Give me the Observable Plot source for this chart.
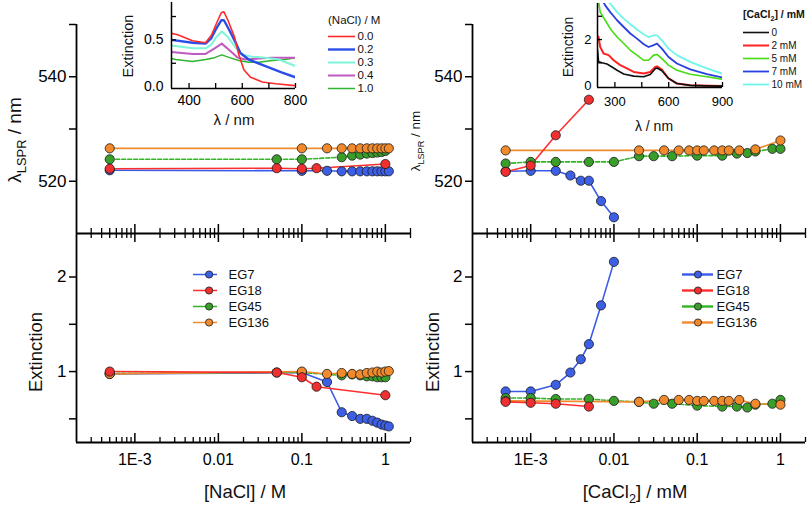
<!DOCTYPE html>
<html><head><meta charset="utf-8">
<script src="https://cdn.jsdelivr.net/npm/d3@7"></script>
<script src="https://cdn.jsdelivr.net/npm/@observablehq/plot@0.6"></script>
<style>
html,body{margin:0;padding:0;background:#fff;}
#wrap{position:relative;width:810px;height:511px;overflow:hidden;background:#fff;}
#wrap svg{position:absolute;left:0;top:0;background:none !important;overflow:visible;max-width:none;}
</style></head><body><div id="wrap"></div>
<script>
// ---------------- DATA ----------------
const seriesNames = ["EG7", "EG18", "EG45", "EG136"];

// NaCl panel (left): concentration / M, lambda_LSPR / nm, extinction
const naclEG7_c    = [0.0005, 0.1, 0.2, 0.3, 0.4, 0.5, 0.6, 0.7, 0.8, 0.9, 1.0, 1.1];
const naclEG7_lspr = [522.1, 522.0, 522.0, 521.9, 521.9, 521.9, 521.9, 521.9, 521.9, 521.9, 521.9, 521.9];
const naclEG7_ext  = [0.975, 0.99, 0.89, 0.57, 0.53, 0.50, 0.50, 0.48, 0.46, 0.44, 0.43, 0.42];

const naclEG18_c    = [0.0005, 0.05, 0.1, 0.15, 1.0];
const naclEG18_lspr = [522.4, 522.5, 522.4, 522.5, 523.3];
const naclEG18_ext  = [1.0, 0.99, 0.94, 0.84, 0.75];

const naclEG45_c    = [0.0005, 0.05, 0.1, 0.3, 0.4, 0.5, 0.6, 0.7, 0.8, 0.9, 1.0];
const naclEG45_lspr = [524.2, 524.2, 524.2, 524.6, 524.9, 525.1, 525.3, 525.4, 525.5, 525.6, 525.8];
const naclEG45_ext  = [0.98, 0.99, 0.99, 0.96, 0.97, 0.96, 0.95, 0.95, 0.94, 0.94, 0.94];

const naclEG136_c    = [0.0005, 0.1, 0.2, 0.3, 0.4, 0.5, 0.6, 0.7, 0.8, 0.9, 1.0, 1.1];
const naclEG136_lspr = [526.3, 526.3, 526.3, 526.3, 526.3, 526.3, 526.3, 526.3, 526.3, 526.3, 526.3, 526.3];
const naclEG136_ext  = [0.975, 1.0, 0.975, 0.985, 0.975, 0.97, 0.985, 0.99, 1.0, 0.99, 1.0, 1.005];

// CaCl2 panel (right): concentration / mM
const caclEG7_c    = [0.0005, 0.001, 0.002, 0.003, 0.004, 0.005, 0.007, 0.01];
const caclEG7_lspr = [521.9, 522.0, 522.0, 521.1, 520.1, 520.1, 516.2, 513.1];
const caclEG7_ext  = [0.79, 0.79, 0.86, 0.99, 1.13, 1.29, 1.70, 2.16];

const caclEG18_c    = [0.0005, 0.001, 0.002, 0.005];
const caclEG18_lspr = [521.8, 523.0, 528.8, 535.6];
const caclEG18_ext  = [0.68, 0.67, 0.66, 0.63];

const caclEG45_c    = [0.0005, 0.001, 0.002, 0.005, 0.01, 0.02, 0.03, 0.05, 0.1, 0.2, 0.3, 0.4, 0.5, 0.8, 1.0];
const caclEG45_lspr = [523.4, 523.7, 523.7, 523.7, 523.7, 524.8, 524.8, 524.8, 524.9, 524.9, 525.3, 525.4, 525.7, 526.2, 526.2];
const caclEG45_ext  = [0.72, 0.72, 0.71, 0.71, 0.69, 0.68, 0.66, 0.66, 0.64, 0.63, 0.63, 0.62, 0.65, 0.66, 0.70];

const caclEG136_c    = [0.0005, 0.02, 0.04, 0.06, 0.08, 0.1, 0.12, 0.16, 0.2, 0.24, 0.32, 0.5, 1.0];
const caclEG136_lspr = [525.9, 525.9, 525.9, 525.9, 525.9, 525.9, 525.9, 525.9, 525.9, 525.9, 525.9, 526.1, 527.8];
const caclEG136_ext  = [0.69, 0.68, 0.70, 0.70, 0.70, 0.69, 0.69, 0.69, 0.69, 0.69, 0.70, 0.66, 0.65];

// Inset left: spectra vs NaCl concentration
const naclInsetLabels = ["0.0", "0.2", "0.3", "0.4", "1.0"];
const nacl00_wl = [334, 350, 362, 413, 462, 484, 502, 521, 531, 546, 571, 587, 606, 631, 675, 725, 800];
const nacl00_e  = [0.57, 0.56, 0.55, 0.49, 0.47, 0.55, 0.67, 0.79, 0.80, 0.71, 0.53, 0.34, 0.18, 0.10, 0.05, 0.03, 0.01];
const nacl02_wl = [334, 413, 462, 484, 502, 521, 531, 552, 577, 593, 624, 687, 750, 800];
const nacl02_e  = [0.50, 0.47, 0.46, 0.52, 0.62, 0.71, 0.71, 0.60, 0.46, 0.36, 0.29, 0.22, 0.15, 0.10];
const nacl03_wl = [334, 413, 462, 484, 502, 523, 546, 577, 599, 637, 687, 737, 800];
const nacl03_e  = [0.44, 0.41, 0.41, 0.45, 0.53, 0.59, 0.53, 0.41, 0.34, 0.32, 0.31, 0.29, 0.22];
const nacl04_wl = [334, 413, 462, 496, 523, 552, 583, 612, 662, 712, 762, 800];
const nacl04_e  = [0.37, 0.35, 0.35, 0.41, 0.46, 0.39, 0.31, 0.29, 0.30, 0.31, 0.31, 0.31];
const nacl10_wl = [334, 350, 413, 462, 496, 523, 552, 587, 624, 662, 712, 762, 800];
const nacl10_e  = [0.30, 0.29, 0.27, 0.29, 0.31, 0.34, 0.31, 0.28, 0.26, 0.26, 0.28, 0.29, 0.31];

// Inset right: spectra vs CaCl2 concentration
const caclInsetLabels = ["0", "2 mM", "5 mM", "7 mM", "10 mM"];
const cacl0_wl  = [203, 209, 228, 256, 284, 312, 349, 405, 461, 497, 525, 535, 562, 599, 646, 720, 800, 900];
const cacl0_e   = [1.55, 1.05, 1.0, 0.95, 0.82, 0.68, 0.52, 0.43, 0.40, 0.50, 0.75, 0.78, 0.66, 0.33, 0.11, 0.03, 0.01, 0.0];
const cacl2_wl  = [203, 209, 218, 237, 265, 293, 330, 367, 405, 461, 497, 525, 535, 562, 599, 646, 720, 900];
const cacl2_e   = [2.15, 2.11, 1.68, 1.40, 1.33, 1.11, 0.90, 0.76, 0.61, 0.54, 0.61, 0.82, 0.85, 0.71, 0.33, 0.11, 0.04, 0.0];
const cacl5_wl  = [211, 218, 246, 274, 312, 349, 386, 423, 461, 488, 516, 535, 562, 599, 646, 720, 813, 897];
const cacl5_e   = [3.55, 3.18, 2.83, 2.47, 2.11, 1.83, 1.54, 1.33, 1.11, 1.11, 1.33, 1.36, 1.18, 0.90, 0.68, 0.51, 0.40, 0.30];
const cacl7_wl  = [233, 246, 274, 312, 349, 386, 423, 461, 488, 516, 535, 562, 599, 646, 720, 813, 897];
const cacl7_e   = [3.65, 3.47, 3.18, 2.83, 2.54, 2.26, 2.04, 1.80, 1.68, 1.76, 1.83, 1.61, 1.25, 0.97, 0.72, 0.51, 0.37];
const cacl10_wl = [256, 274, 312, 349, 386, 423, 461, 488, 516, 535, 562, 599, 646, 720, 813, 897];
const cacl10_e  = [3.65, 3.55, 3.18, 2.90, 2.66, 2.43, 2.23, 2.11, 2.18, 2.18, 1.97, 1.61, 1.33, 1.04, 0.76, 0.54];

// Tick values / labels
const logTickValues = [0.001, 0.01, 0.1, 1];
const logTickLabels = ["1E-3", "0.01", "0.1", "1"];
const lsprTicks = [520, 530, 540, 550];
const lsprLabeled = [520, 540];
const extTicks = [0.5, 1, 1.5, 2];
const extLabeled = [1, 2];
const naclInsetXTicks = [400, 500, 600, 700, 800];
const naclInsetXLabeled = [400, 600, 800];
const naclInsetYTicks = [0.25, 0.5, 0.75];
const naclInsetYLabeled = [0, 0.5];
const caclInsetXTicks = [300, 450, 600, 750, 900];
const caclInsetXLabeled = [300, 600, 900];
const caclInsetYTicks = [1, 2, 3];
const caclInsetYLabeled = [0, 2];

// ---------------- STYLES ----------------
const W = 810, H = 511;
const FONT = "'Liberation Sans', Arial, Helvetica, sans-serif";
const lineColor = {EG7: "#3a5ae8", EG18: "#ff2e2e", EG45: "#33b526", EG136: "#f08a2c"};
const dotColor  = {EG7: "#3d5fe6", EG18: "#f03030", EG45: "#3a9e2a", EG136: "#f08a2c"};
const dashOf    = {EG7: null, EG18: null, EG45: "4,2", EG136: null};
const drawOrder = ["EG7", "EG45", "EG136", "EG18"];
const naclInsetColor = {"0.0": "#ff2a2a", "0.2": "#2a4ee8", "0.3": "#7df5d8", "0.4": "#c05ac0", "1.0": "#2fb52f"};
const naclInsetWidth = {"0.0": 1.6, "0.2": 2.4, "0.3": 2, "0.4": 2, "1.0": 1.5};
const caclInsetColor = {"0": "#111111", "2 mM": "#ff2222", "5 mM": "#44dd11", "7 mM": "#2a3fe0", "10 mM": "#70f5ea"};
const caclInsetWidth = {"0": 1.6, "2 mM": 2, "5 mM": 1.6, "7 mM": 1.8, "10 mM": 1.8};

const wrap = document.getElementById("wrap");
const rowsOf = list => list.flatMap(([s, c, v]) => c.map((x, i) => ({s, c: x, v: v[i]})));

function base(box, extra) {
  return {width: W, height: H, marginLeft: box.l, marginRight: W - box.r, marginTop: box.t, marginBottom: H - box.b,
    style: {fontFamily: FONT, background: "none", overflow: "visible"}, ...extra};
}

const xDomainLog = [2e-4, 2];
const logMinor = [];
for (const d of [1e-4, 1e-3, 1e-2, 1e-1, 1]) for (let m = 2; m <= 9; m++) {
  const v = +(m * d).toPrecision(3);
  if (v > 2e-4 && v <= 2) logMinor.push(v);
}

function mainPanel({box, yDomain, rows, yTicks, yLabeled, isBottom}) {
  const h = box.b - box.t;
  const marks = [];
  for (const s of drawOrder) marks.push(Plot.line(rows.filter(r => r.s === s), {x: "c", y: "v", stroke: lineColor[s], strokeWidth: 1.6, strokeDasharray: dashOf[s]}));
  for (const s of drawOrder) marks.push(Plot.dot(rows.filter(r => r.s === s), {x: "c", y: "v", r: 4.6, fill: dotColor[s], stroke: "#1a1a1a", strokeWidth: 0.8}));
  marks.push(Plot.ruleX([xDomainLog[0]], {stroke: "#000", strokeWidth: 1.8}));
  marks.push(Plot.ruleY([yDomain[0]], {stroke: "#000", strokeWidth: 1.8}));
  marks.push(Plot.ruleX(logMinor, {insetTop: h - 5, stroke: "#000", strokeWidth: 1.3}));
  marks.push(Plot.ruleX(logTickValues, {insetTop: h - 9, stroke: "#000", strokeWidth: 1.5}));
  if (isBottom) {
    marks.push(Plot.ruleX(logMinor, {insetBottom: h - 5, stroke: "#000", strokeWidth: 1.3}));
    marks.push(Plot.ruleX(logTickValues, {insetBottom: h - 9, stroke: "#000", strokeWidth: 1.5}));
    marks.push(Plot.axisX(logTickValues, {tickSize: 0, tickPadding: 11, fontSize: 16, label: null,
      tickFormat: d => logTickLabels[logTickValues.indexOf(d)]}));
  }
  marks.push(Plot.axisY(yTicks, {tickSize: 7, tickPadding: 3, strokeWidth: 1.5, fontSize: 17, label: null,
    tickFormat: d => yLabeled.includes(d) ? String(d) : ""}));
  return Plot.plot(base(box, {
    x: {type: "log", domain: xDomainLog, axis: null, label: null},
    y: {domain: yDomain, axis: null, label: null},
    marks
  }));
}

function insetPanel({box, xDomain, yDomain, curves, xTicks, xLabeled, yTicks, yLabeled, yFmt, fs, padX, padY}) {
  const w = box.r - box.l, h = box.b - box.t;
  const marks = curves.map(cv => Plot.line(cv.wl.map((x, i) => ({x, y: cv.e[i]})),
    {x: "x", y: "y", stroke: cv.color, strokeWidth: cv.sw, clip: true}));
  marks.push(Plot.ruleX([xDomain[0]], {stroke: "#000", strokeWidth: 1.5}));
  marks.push(Plot.ruleY([yDomain[0]], {stroke: "#000", strokeWidth: 1.5}));
  marks.push(Plot.ruleX(xTicks, {insetTop: h - 5, stroke: "#000", strokeWidth: 1.3}));
  marks.push(Plot.ruleY(yTicks, {insetRight: w - 5, stroke: "#000", strokeWidth: 1.3}));
  marks.push(Plot.axisX(xLabeled, {tickSize: 0, tickPadding: padX, fontSize: fs, label: null}));
  marks.push(Plot.axisY(yLabeled, {tickSize: 0, tickPadding: padY, fontSize: fs, label: null, tickFormat: yFmt}));
  return Plot.plot(base(box, {
    x: {domain: xDomain, axis: null, label: null},
    y: {domain: yDomain, axis: null, label: null},
    marks
  }));
}

function legendPlot({labels, colors, widths, dashes, xr, yr, fs, gap, dotAt, dotR, dotFill}) {
  const marks = [
    Plot.ruleY(labels, {y: d => d, x1: 0, x2: 1, stroke: d => colors[d], strokeWidth: d => widths[d], strokeDasharray: d => dashes ? dashes[d] : null})
  ];
  if (dotAt != null) marks.push(Plot.dot(labels, {x: dotAt, y: d => d, r: dotR, fill: d => dotFill[d], stroke: "#1a1a1a", strokeWidth: 0.8}));
  marks.push(Plot.text(labels, {x: 1, y: d => d, dx: gap, text: d => d, textAnchor: "start", fontSize: fs, fill: "#111"}));
  return Plot.plot({width: W, height: H, margin: 0,
    style: {fontFamily: FONT, background: "none", overflow: "visible"},
    x: {domain: [0, 1], range: xr, axis: null},
    y: {type: "point", domain: labels, range: yr, padding: 0, axis: null},
    color: {type: "identity"},
    marks});
}

// ---------------- BUILD ----------------
const naclRowsL = rowsOf([["EG7", naclEG7_c, naclEG7_lspr], ["EG18", naclEG18_c, naclEG18_lspr], ["EG45", naclEG45_c, naclEG45_lspr], ["EG136", naclEG136_c, naclEG136_lspr]]);
const naclRowsE = rowsOf([["EG7", naclEG7_c, naclEG7_ext], ["EG18", naclEG18_c, naclEG18_ext], ["EG45", naclEG45_c, naclEG45_ext], ["EG136", naclEG136_c, naclEG136_ext]]);
const caclRowsL = rowsOf([["EG7", caclEG7_c, caclEG7_lspr], ["EG18", caclEG18_c, caclEG18_lspr], ["EG45", caclEG45_c, caclEG45_lspr], ["EG136", caclEG136_c, caclEG136_lspr]]);
const caclRowsE = rowsOf([["EG7", caclEG7_c, caclEG7_ext], ["EG18", caclEG18_c, caclEG18_ext], ["EG45", caclEG45_c, caclEG45_ext], ["EG136", caclEG136_c, caclEG136_ext]]);

const lsprDomain = [510, 550];
const extDomain = [0.25, 2.46];

wrap.appendChild(mainPanel({box: {l: 76, r: 410, t: 24, b: 233}, yDomain: lsprDomain, rows: naclRowsL, yTicks: lsprTicks, yLabeled: lsprLabeled, isBottom: false}));
wrap.appendChild(mainPanel({box: {l: 76, r: 410, t: 233, b: 442}, yDomain: extDomain, rows: naclRowsE, yTicks: extTicks, yLabeled: extLabeled, isBottom: true}));
wrap.appendChild(mainPanel({box: {l: 472, r: 805, t: 24, b: 233}, yDomain: lsprDomain, rows: caclRowsL, yTicks: lsprTicks, yLabeled: lsprLabeled, isBottom: false}));
wrap.appendChild(mainPanel({box: {l: 472, r: 805, t: 233, b: 442}, yDomain: extDomain, rows: caclRowsE, yTicks: extTicks, yLabeled: extLabeled, isBottom: true}));

wrap.appendChild(insetPanel({box: {l: 171, r: 295, t: 2, b: 88}, xDomain: [334, 800], yDomain: [-0.02, 0.9],
  curves: [
    {wl: nacl10_wl, e: nacl10_e, color: naclInsetColor["1.0"], sw: naclInsetWidth["1.0"]},
    {wl: nacl04_wl, e: nacl04_e, color: naclInsetColor["0.4"], sw: naclInsetWidth["0.4"]},
    {wl: nacl03_wl, e: nacl03_e, color: naclInsetColor["0.3"], sw: naclInsetWidth["0.3"]},
    {wl: nacl02_wl, e: nacl02_e, color: naclInsetColor["0.2"], sw: naclInsetWidth["0.2"]},
    {wl: nacl00_wl, e: nacl00_e, color: naclInsetColor["0.0"], sw: naclInsetWidth["0.0"]}
  ],
  xTicks: naclInsetXTicks, xLabeled: naclInsetXLabeled, yTicks: naclInsetYTicks, yLabeled: naclInsetYLabeled,
  yFmt: d3.format(".1f"), fs: 14, padX: 7, padY: 8}));

wrap.appendChild(insetPanel({box: {l: 597, r: 722, t: 3, b: 87}, xDomain: [203, 900], yDomain: [-0.06, 3.55],
  curves: [
    {wl: cacl10_wl, e: cacl10_e, color: caclInsetColor["10 mM"], sw: caclInsetWidth["10 mM"]},
    {wl: cacl7_wl, e: cacl7_e, color: caclInsetColor["7 mM"], sw: caclInsetWidth["7 mM"]},
    {wl: cacl5_wl, e: cacl5_e, color: caclInsetColor["5 mM"], sw: caclInsetWidth["5 mM"]},
    {wl: cacl2_wl, e: cacl2_e, color: caclInsetColor["2 mM"], sw: caclInsetWidth["2 mM"]},
    {wl: cacl0_wl, e: cacl0_e, color: caclInsetColor["0"], sw: caclInsetWidth["0"]}
  ],
  xTicks: caclInsetXTicks, xLabeled: caclInsetXLabeled, yTicks: caclInsetYTicks, yLabeled: caclInsetYLabeled,
  yFmt: d3.format("d"), fs: 13, padX: 9, padY: 6}));

// legends
wrap.appendChild(legendPlot({labels: naclInsetLabels, colors: naclInsetColor, widths: naclInsetWidth,
  xr: [328, 355], yr: [35, 89], fs: 11.5, gap: 2}));
wrap.appendChild(legendPlot({labels: caclInsetLabels, colors: caclInsetColor, widths: caclInsetWidth,
  xr: [743, 769], yr: [32, 84], fs: 10, gap: 2}));
const legW1 = {EG7: 1.5, EG18: 1.5, EG45: 1.5, EG136: 1.5};
const legW2 = {EG7: 2.4, EG18: 2.4, EG45: 2.4, EG136: 2.4};
wrap.appendChild(legendPlot({labels: seriesNames, colors: lineColor, widths: legW1, dashes: dashOf,
  xr: [193, 217], yr: [273, 322], fs: 13, gap: 11, dotAt: 0.65, dotR: 3.6, dotFill: dotColor}));
wrap.appendChild(legendPlot({labels: seriesNames, colors: lineColor, widths: legW2,
  xr: [682, 713], yr: [273, 322], fs: 13, gap: 3, dotAt: 0.5, dotR: 3.6, dotFill: dotColor}));

// ---------------- AXIS TITLES (text with subscripts) ----------------
const ov = d3.select(wrap).append("svg").attr("width", W).attr("height", H)
  .style("font-family", FONT).style("fill", "#111");
function title(x, y, parts, size, rotate, extra) {
  const t = ov.append("text").attr("text-anchor", "middle").attr("font-size", size)
    .attr("transform", `translate(${x},${y})` + (rotate ? " rotate(-90)" : ""));
  if (extra) extra(t);
  let shift = 0;
  for (const p of parts) {
    const ts = t.append("tspan").text(p.t);
    const target = p.sub ? size * 0.28 : 0;
    ts.attr("dy", target - shift);
    shift = target;
    if (p.sub) ts.attr("font-size", size * 0.68);
  }
  return t;
}
title(21, 140, [{t: "λ"}, {t: "LSPR", sub: true}, {t: " / nm"}], 19, true);
title(420, 141, [{t: "λ"}, {t: "LSPR", sub: true}, {t: " / nm"}], 13.5, true);
title(42, 352, [{t: "Extinction"}], 18.5, true);
title(439, 352, [{t: "Extinction"}], 18.5, true);
title(245, 498, [{t: "[NaCl] / M"}], 18.5, false);
title(635, 498, [{t: "[CaCl"}, {t: "2", sub: true}, {t: "] / mM"}], 18.5, false);
title(133, 46, [{t: "Extinction"}], 14.5, true);
title(234, 125, [{t: "λ / nm"}], 15, false);
title(573, 47, [{t: "Extinction"}], 14, true);
title(654, 131, [{t: "λ / nm"}], 14, false);
title(328, 24, [{t: "(NaCl) / M"}], 11.5, false, t => t.attr("text-anchor", "start"));
title(743, 18, [{t: "[CaCl"}, {t: "2", sub: true}, {t: "] / mM"}], 10.5, false, t => t.attr("text-anchor", "start").attr("font-weight", "bold"));
</script></body></html>
